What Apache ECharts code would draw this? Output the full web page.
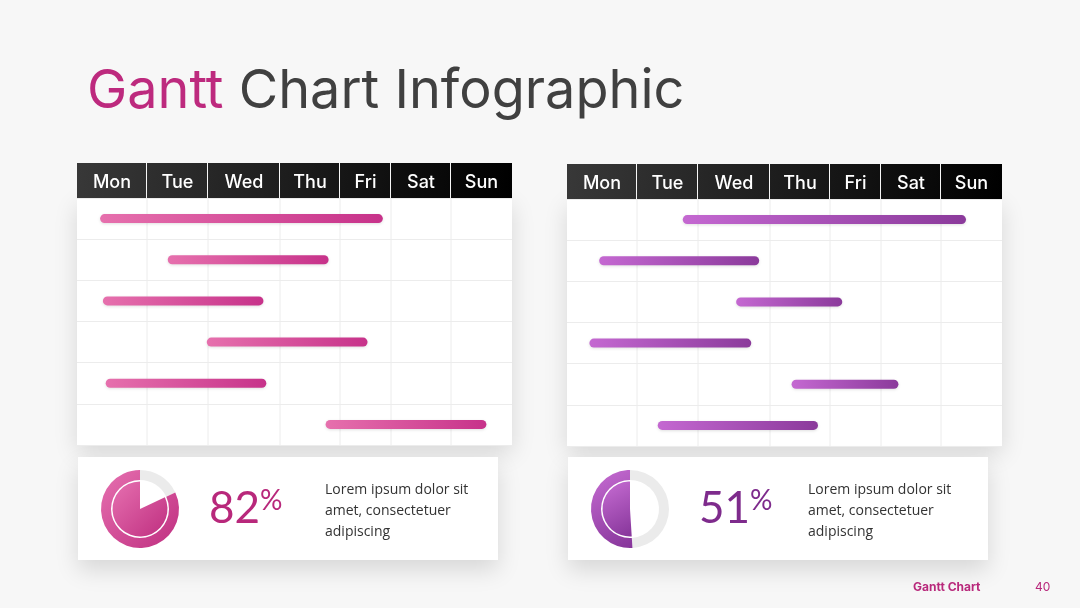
<!DOCTYPE html>
<html>
<head>
<meta charset="utf-8">
<title>Gantt Chart Infographic</title>
<script src="https://cdn.jsdelivr.net/npm/echarts@6.0.0/dist/echarts.min.js"></script>
<style>
  html, body { margin: 0; padding: 0; background: #f7f7f7; }
  #chart { width: 1080px; height: 608px; }
</style>
</head>
<body>
<div id="chart"></div>
<script>
// data
const days = ['Mon', 'Tue', 'Wed', 'Thu', 'Fri', 'Sat', 'Sun']
// task start / end in fractional days (0 = start of Mon)
const pinkStart = [0.33, 1.34, 0.37, 1.98, 0.41, 3.76]
const pinkEnd = [4.84, 3.81, 2.77, 4.54, 2.81, 6.58]
const purpleStart = [1.75, 0.46, 2.53, 0.32, 3.36, 1.34]
const purpleEnd = [6.41, 2.85, 4.24, 2.74, 5.29, 3.80]
const progress = [82, 51]

// layout: the day columns are not all the same width
const colWidths = [70, 61, 72, 60, 51, 60, 61]
const colEdges = [0]
colWidths.forEach((w) => colEdges.push(colEdges[colEdges.length - 1] + w))
const totalW = colEdges[colEdges.length - 1]
const headerH = 35

const pink = ['#e670ad', '#c7328a']
const purple = ['#c468d1', '#8b3a9b']

// fractional day -> column-width units on the x axis
function dayToX(d) {
  const i = Math.min(Math.floor(d), 6)
  return colEdges[i] + (d - i) * colWidths[i]
}

function grad(c, x0, y0, x1, y1, global) {
  return new echarts.graphic.LinearGradient(x0, y0, x1, y1, [
    { offset: 0, color: c[0] },
    { offset: 1, color: c[1] }
  ], global)
}

function panelSeries(idx, starts, ends, colors) {
  const bars = starts.map((s, i) => [i, s, ends[i]])
  return [
    {
      // vertical column lines
      type: 'custom',
      xAxisIndex: idx,
      yAxisIndex: idx,
      silent: true,
      z: 1,
      data: colEdges.slice(1, 7),
      renderItem: (params, api) => {
        const top = api.coord([api.value(0), 0])
        const bot = api.coord([api.value(0), 6])
        return {
          type: 'line',
          shape: { x1: top[0], y1: top[1], x2: bot[0], y2: bot[1] },
          style: { stroke: '#ececec', lineWidth: 1 }
        }
      }
    },
    {
      // dark header with day names
      type: 'custom',
      xAxisIndex: idx,
      yAxisIndex: idx,
      silent: true,
      clip: false,
      z: 3,
      data: days.map((d, i) => [i, d]),
      renderItem: (params, api) => {
        const i = api.value(0)
        const p0 = api.coord([colEdges[i], 0])
        const p1 = api.coord([colEdges[i + 1], 0])
        const left = api.coord([0, 0])[0]
        const right = api.coord([totalW, 0])[0]
        const w = p1[0] - p0[0] - (i < 6 ? 1 : 0)
        return {
          type: 'group',
          children: [
            {
              type: 'rect',
              shape: { x: p0[0], y: p0[1] - headerH, width: w, height: headerH },
              style: { fill: grad(['#383838', '#000000'], left, p0[1] - headerH, right, p0[1], true) }
            },
            {
              type: 'text',
              style: {
                text: days[i],
                x: p0[0] + (p1[0] - p0[0]) / 2,
                y: p0[1] - headerH / 2 + 2,
                align: 'center',
                verticalAlign: 'middle',
                fill: '#fff',
                font: '500 18px Inter'
              }
            }
          ]
        }
      }
    },
    {
      // task bars
      type: 'custom',
      xAxisIndex: idx,
      yAxisIndex: idx,
      silent: true,
      z: 2,
      data: bars,
      renderItem: (params, api) => {
        const row = api.value(0)
        const a = api.coord([dayToX(api.value(1)), row + 0.5])
        const b = api.coord([dayToX(api.value(2)), row + 0.5])
        const h = 9
        return {
          type: 'rect',
          shape: { x: a[0], y: a[1] - h / 2, width: b[0] - a[0], height: h, r: h / 2 },
          style: {
            fill: grad(colors, 0, 0, 1, 0),
            shadowBlur: 3,
            shadowColor: 'rgba(0,0,0,0.12)',
            shadowOffsetY: 1
          }
        }
      }
    }
  ]
}

function donut(center, value, colors) {
  const base = {
    type: 'pie',
    center: center,
    silent: true,
    startAngle: 90,
    clockwise: true,
    label: { show: false },
    labelLine: { show: false },
    emphasis: { disabled: true },
    animation: false
  }
  return [
    Object.assign({}, base, {
      radius: [29, 39],
      data: [
        { value: 100 - value, itemStyle: { color: '#ebebeb', borderWidth: 0 } },
        { value: value, itemStyle: { color: grad(colors, 0, 0, 1, 1), borderWidth: 0 } }
      ]
    }),
    Object.assign({}, base, {
      radius: [0, 27.5],
      data: [
        { value: 100 - value, itemStyle: { color: 'rgba(0,0,0,0)', borderWidth: 0 } },
        { value: value, itemStyle: { color: grad(colors, 0, 0, 1, 1), borderWidth: 0 } }
      ]
    })
  ]
}

const gridBase = {
  top: 198,
  height: 247,
  width: totalW,
  show: true,
  backgroundColor: '#fff',
  borderWidth: 0,
  shadowBlur: 22,
  shadowColor: 'rgba(0,0,0,0.13)',
  shadowOffsetY: 8
}
const xBase = { type: 'value', min: 0, max: totalW, show: false }
const yBase = {
  type: 'value',
  min: 0,
  max: 6,
  interval: 1,
  inverse: true,
  axisLine: { show: false },
  axisTick: { show: false },
  axisLabel: { show: false },
  splitLine: { show: true, lineStyle: { color: '#ececec', width: 1 } }
}

function card(x, pct, color) {
  return [
    {
      type: 'rect',
      shape: { x: x, y: 457, width: 420, height: 103 },
      style: { fill: '#fff', shadowBlur: 22, shadowColor: 'rgba(0,0,0,0.13)', shadowOffsetY: 10 },
      z: 0
    },
    {
      type: 'text',
      x: x + 131,
      y: 509,
      style: {
        text: '{n|' + pct + '}{p|%}',
        verticalAlign: 'middle',
        rich: {
          n: { font: '44px Lato', fill: color, lineHeight: 44, verticalAlign: 'bottom' },
          p: { font: '28px Lato', fill: color, lineHeight: 44, verticalAlign: 'top' }
        }
      },
      z: 10
    }
  ]
}

const chart = echarts.init(document.getElementById('chart'))
const option = {
  backgroundColor: '#f7f7f7',
  animation: false,
  grid: [
    Object.assign({}, gridBase, { left: 77 }),
    Object.assign({}, gridBase, { left: 567, top: 199 })
  ],
  xAxis: [
    Object.assign({}, xBase, { gridIndex: 0 }),
    Object.assign({}, xBase, { gridIndex: 1 })
  ],
  yAxis: [
    Object.assign({}, yBase, { gridIndex: 0 }),
    Object.assign({}, yBase, { gridIndex: 1 })
  ],
  graphic: [
    {
      type: 'text',
      x: 87,
      y: 92,
      style: {
        text: '{a|Gantt }{b|Chart Infographic}',
        verticalAlign: 'middle',
        rich: {
          a: { font: '54px Inter', fill: '#bd2a7e' },
          b: { font: '54px Inter', fill: '#404040' }
        }
      }
    },
    ...card(78, progress[0], '#b8287b'),
    ...card(568, progress[1], '#7e2b8c'),
    {
      type: 'text',
      x: 325,
      y: 480,
      style: {
        text: 'Lorem ipsum dolor sit\namet, consectetuer\nadipiscing',
        font: '14px "Open Sans"',
        lineHeight: 21,
        fill: '#333'
      },
      z: 10
    },
    {
      type: 'text',
      x: 808,
      y: 480,
      style: {
        text: 'Lorem ipsum dolor sit\namet, consectetuer\nadipiscing',
        font: '14px "Open Sans"',
        lineHeight: 21,
        fill: '#333'
      },
      z: 10
    },
    {
      type: 'text',
      x: 913,
      y: 587,
      style: { text: 'Gantt Chart', font: 'bold 12px Inter', fill: '#b8287b', verticalAlign: 'middle' }
    },
    {
      type: 'text',
      x: 1035,
      y: 587,
      style: { text: '40', font: '12px Inter', fill: '#b8287b', verticalAlign: 'middle' }
    }
  ],
  series: [
    ...panelSeries(0, pinkStart, pinkEnd, pink),
    ...panelSeries(1, purpleStart, purpleEnd, purple),
    ...donut([140, 509], progress[0], ['#e670b0', '#bf2f80']),
    ...donut([630, 509], progress[1], ['#c76dd3', '#86359a'])
  ]
}
chart.setOption(option)
window.addEventListener('resize', () => {
  chart.resize()
})
</script>
</body>
</html>
